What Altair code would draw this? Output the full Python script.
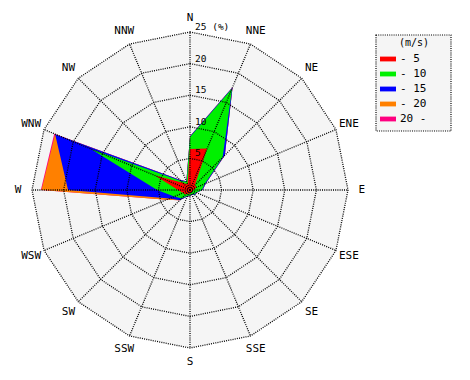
import altair as alt
import pandas as pd
import numpy as np

# ---- data ----
directions = ["N", "NNE", "NE", "ENE", "E", "ESE", "SE", "SSE",
              "S", "SSW", "SW", "WSW", "W", "WNW", "NW", "NNW"]
classes = ["- 5", "- 10", "- 15", "- 20", "20 -"]
colors = ["#ff0000", "#00f000", "#0000ff", "#ff8000", "#ff0080"]

# frequency (%) per speed class, per direction (N clockwise)
freq_5 = [6.5, 7.1, 1.1, 1.1, 0.6, 0.4, 0.5, 0.4, 0.6, 0.6, 1.0, 1.2, 1.9, 6.0, 1.6, 1.0]
freq_10 = [1.9, 10.3, 6.2, 1.4, 1.3, 0.6, 0.5, 0.3, 0.3, 0.4, 0.9, 1.5, 3.3, 10.9, 0.4, 0.4]
freq_15 = [0.1, 0.2, 0.5, 0.2, 0.1, 0.1, 0.1, 0.1, 0.1, 0.1, 0.4, 0.8, 14.1, 6.2, 0.3, 0.1]
freq_20 = [0.0, 0.0, 0.0, 0.0, 0.0, 0.0, 0.0, 0.0, 0.0, 0.0, 0.0, 0.5, 4.2, 0.0, 0.0, 0.0]
freq_20p = [0.0, 0.0, 0.0, 0.0, 0.0, 0.0, 0.0, 0.0, 0.0, 0.0, 0.0, 0.0, 0.1, 0.15, 0.0, 0.0]

ring_values = [5, 10, 15, 20, 25]
ring_labels = ["5", "10", "15", "20", "25 (%)"]

# ---- tables ----
freqs = np.array([freq_5, freq_10, freq_15, freq_20, freq_20p])
cum = np.cumsum(freqs, axis=0)
n = len(directions)

rows = []
for k, c in enumerate(classes):
    for i in range(n + 1):
        rows.append({"cls": c, "k": k, "i": i, "ang": i * 360.0 / n, "r": float(cum[k][i % n])})
poly_df = pd.DataFrame(rows)

ring_rows = []
for v in ring_values:
    for i in range(n + 1):
        ring_rows.append({"ring": v, "i": i, "ang": i * 360.0 / n, "r": v})
ring_df = pd.DataFrame(ring_rows)

spoke_df = pd.DataFrame({"dir": directions, "ang": [i * 360.0 / n for i in range(n)],
                         "r": [max(ring_values)] * n})
dirlab_df = pd.DataFrame({"dir": directions, "ang": [i * 360.0 / n for i in range(n)]})
ringlab_df = pd.DataFrame({"v": ring_values, "label": ring_labels})
legend_df = pd.DataFrame({"cls": classes, "idx": list(range(len(classes)))})

# ---- scales ----
RMAX = 25
xs = alt.Scale(domain=[-RMAX, RMAX], range=[24, 340], nice=False, zero=False)
ys = alt.Scale(domain=[-RMAX, RMAX], range=[340, 24], nice=False, zero=False)
cs = alt.Scale(domain=classes, range=colors)
FONT = "DejaVu Sans Mono"

def polar(ch, rfield="datum.r"):
    return ch.transform_calculate(
        x=f"{rfield} * sin(datum.ang * PI / 180)",
        y=f"{rfield} * cos(datum.ang * PI / 180)",
    )

# background disc (outer 16-gon)
bg = polar(alt.Chart(ring_df).transform_filter(f"datum.ring == {RMAX}")).mark_line(
    filled=True, color="#f5f5f5", strokeWidth=0
).encode(
    x=alt.X("x:Q", scale=xs, axis=None),
    y=alt.Y("y:Q", scale=ys, axis=None),
    order=alt.Order("i:Q"),
)

layers = [bg]
for k in reversed(range(len(classes))):
    layers.append(
        polar(alt.Chart(poly_df).transform_filter(f"datum.k == {k}")).mark_line(
            filled=True, strokeWidth=0
        ).encode(
            x=alt.X("x:Q", scale=xs, axis=None),
            y=alt.Y("y:Q", scale=ys, axis=None),
            order=alt.Order("i:Q"),
            color=alt.Color("cls:N", scale=cs, legend=None),
        )
    )

rings = polar(alt.Chart(ring_df)).mark_line(
    color="black", strokeWidth=1.3, strokeDash=[1, 1.2]
).encode(
    x=alt.X("x:Q", scale=xs, axis=None),
    y=alt.Y("y:Q", scale=ys, axis=None),
    detail="ring:N",
    order=alt.Order("i:Q"),
)

spokes = polar(alt.Chart(spoke_df)).transform_calculate(zero="0").mark_rule(
    color="black", strokeWidth=1.3, strokeDash=[1, 1.2]
).encode(
    x=alt.X("zero:Q", scale=xs, axis=None),
    y=alt.Y("zero:Q", scale=ys, axis=None),
    x2="x:Q",
    y2="y:Q",
)

dirlabels = polar(alt.Chart(dirlab_df), rfield="27.2").mark_text(
    font=FONT, fontSize=11, color="black", align="center", baseline="middle"
).encode(
    x=alt.X("x:Q", scale=xs, axis=None),
    y=alt.Y("y:Q", scale=ys, axis=None),
    text="dir:N",
)

ringlabels = alt.Chart(ringlab_df).transform_calculate(zero="0").mark_text(
    font=FONT, fontSize=9.5, color="black", align="left", baseline="bottom", dx=5, dy=0
).encode(
    x=alt.X("zero:Q", scale=xs, axis=None),
    y=alt.Y("v:Q", scale=ys, axis=None),
    text="label:N",
)

# legend
leg_box = alt.Chart(pd.DataFrame({"a": [0]})).mark_rect(
    fill="#f5f5f5", stroke="black", strokeWidth=1.2, strokeDash=[1, 1.2]
).encode(
    x=alt.value(368), x2=alt.value(443), y=alt.value(27), y2=alt.value(123)
)
leg_title = alt.Chart(pd.DataFrame({"a": [0]})).mark_text(
    text="(m/s)", font=FONT, fontSize=10, color="black", align="center", baseline="middle"
).encode(x=alt.value(406), y=alt.value(35))
ly = alt.Scale(domain=[0, len(classes) - 1], range=[51, 111], nice=False, zero=False)
leg_sym = alt.Chart(legend_df).mark_point(
    shape="M-1,-0.3H1V0.3H-1Z", size=256, filled=True, opacity=1
).encode(
    x=alt.value(380),
    y=alt.Y("idx:Q", scale=ly, axis=None),
    color=alt.Color("cls:N", scale=cs, legend=None),
)
leg_txt = alt.Chart(legend_df).mark_text(
    font=FONT, fontSize=11, color="black", align="left", baseline="middle"
).encode(
    x=alt.value(392),
    y=alt.Y("idx:Q", scale=ly, axis=None),
    text="cls:N",
)

chart = alt.layer(
    *layers, rings, spokes, ringlabels, dirlabels, leg_box, leg_title, leg_sym, leg_txt
).resolve_scale(
    x="independent", y="independent"
).properties(
    width=454, height=364, padding=0, autosize="none"
).configure_view(stroke=None)

chart.save("out.html", embed_options={"renderer": "svg", "actions": False})
